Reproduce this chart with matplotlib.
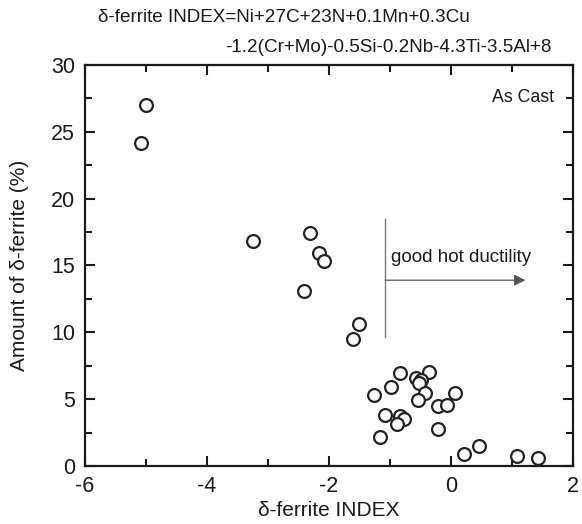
import matplotlib
matplotlib.use("Agg")
import matplotlib.pyplot as plt
from matplotlib.ticker import MultipleLocator

plt.rcParams['font.family'] = ['Liberation Sans', 'DejaVu Sans']
plt.rcParams['axes.unicode_minus'] = False

# delta-ferrite index vs. measured delta-ferrite amount (as cast)
ferrite_index = [-5.00, -5.08, -3.25, -2.31, -2.17, -2.08, -2.41, -1.50, -1.61,
                 -0.83, -0.36, -0.58, -0.49, -0.52, -0.98, -1.26, -0.42, 0.06,
                 -0.54, -0.22, -0.07, -1.08, -0.84, -0.77, -0.88, -0.22, -1.16,
                 0.21, 0.46, 1.08, 1.42]
ferrite_amount = [27.0, 24.2, 16.85, 17.4, 15.95, 15.36, 13.1, 10.64, 9.5,
                  6.93, 7.0, 6.6, 6.43, 6.18, 5.89, 5.31, 5.44, 5.44,
                  4.94, 4.49, 4.56, 3.79, 3.76, 3.52, 3.12, 2.79, 2.15,
                  0.87, 1.52, 0.75, 0.62]

fig = plt.figure(figsize=(5.82, 5.24), dpi=100)
ax = fig.add_axes([0.146, 0.1107, 0.8385, 0.7653])

ax.scatter(ferrite_index, ferrite_amount, s=85, facecolors='white',
           edgecolors='#222222', linewidths=1.6, zorder=3, clip_on=False)

ax.set_xlim(-6, 2)
ax.set_ylim(0, 30)
ax.xaxis.set_major_locator(MultipleLocator(2))
ax.xaxis.set_minor_locator(MultipleLocator(1))
ax.yaxis.set_major_locator(MultipleLocator(5))
ax.yaxis.set_minor_locator(MultipleLocator(2.5))
ax.tick_params(which='both', direction='in', top=True, right=True,
               width=1.5, labelsize=15.5, colors='#1a1a1a')
ax.tick_params(which='major', length=7, pad=7)
ax.tick_params(which='minor', length=5)
for sp in ax.spines.values():
    sp.set_linewidth(1.6)
    sp.set_color('#1a1a1a')

ax.set_xlabel('δ-ferrite INDEX', fontsize=15, color='#1a1a1a', labelpad=3)
ax.set_ylabel('Amount of δ-ferrite (%)', fontsize=15, color='#1a1a1a', labelpad=16)

# boundary of good hot ductility
ax.plot([-1.08, -1.08], [9.65, 18.5], color='#777777', lw=1.0)
ax.annotate('', xy=(1.22, 13.9), xytext=(-1.08, 13.9),
            arrowprops=dict(arrowstyle='-|>', color='#555555', lw=0.9,
                            mutation_scale=17, shrinkA=0, shrinkB=0))
ax.text(-0.98, 15.6, 'good hot ductility', fontsize=13.5, color='#1a1a1a',
        va='center', ha='left')
ax.text(0.962, 0.92, 'As Cast', transform=ax.transAxes, fontsize=12.8,
        color='#1a1a1a', ha='right', va='center')

fig.text(0.168, 0.966, 'δ-ferrite INDEX=Ni+27C+23N+0.1Mn+0.3Cu', fontsize=13.6,
         color='#1a1a1a', ha='left', va='center')
fig.text(0.948, 0.910, '-1.2(Cr+Mo)-0.5Si-0.2Nb-4.3Ti-3.5Al+8', fontsize=13.6,
         color='#1a1a1a', ha='right', va='center')

fig.savefig('out.png', dpi=100)
